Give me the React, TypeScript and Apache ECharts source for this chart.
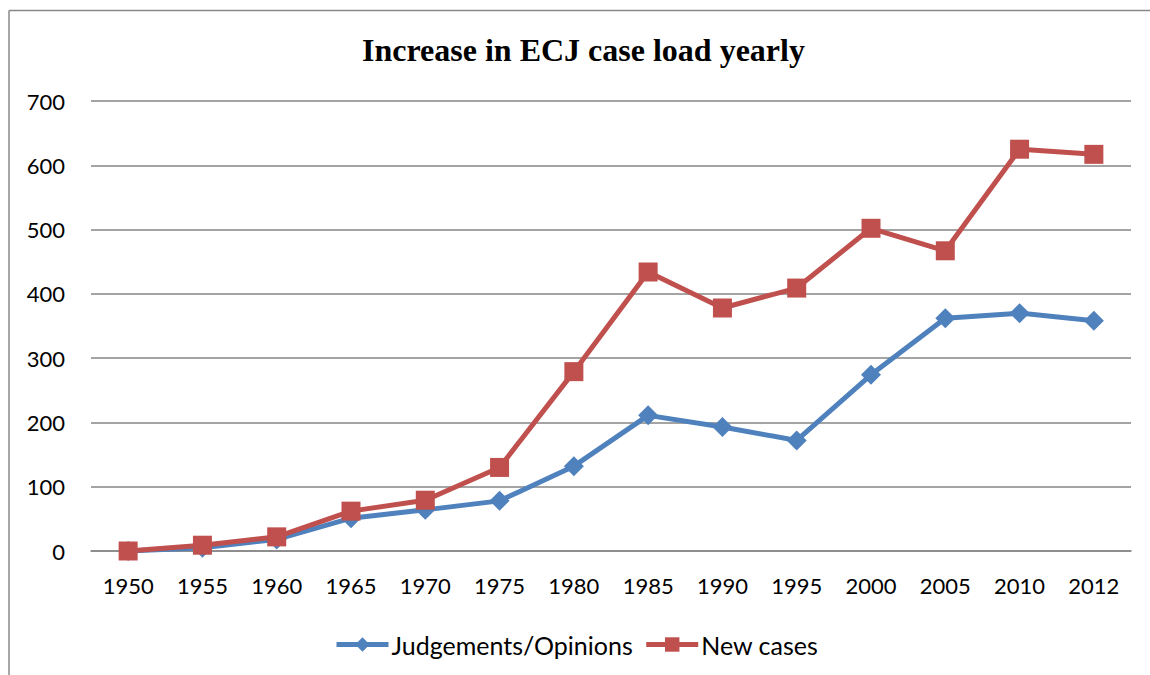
import React, { useEffect, useRef } from "react";
import * as echarts from "echarts";

const years = ["1950", "1955", "1960", "1965", "1970", "1975", "1980", "1985", "1990", "1995", "2000", "2005", "2010", "2012"];
const judgements = [0, 5, 18, 51, 64, 78, 132, 211, 193, 172, 274, 362, 370, 358];
const newCases = [0, 9, 22, 62, 79, 130, 279, 434, 378, 409, 502, 467, 625, 617];

export default function App() {
  const ref = useRef<HTMLDivElement>(null);
  useEffect(() => {
    const chart = echarts.init(ref.current!, null, { renderer: "svg" });
    const labelFont = { fontFamily: "Lato", fontSize: 22, color: "#000" };
    chart.setOption({
      animation: false,
      backgroundColor: "#fff",
      title: {
        text: "Increase in ECJ case load yearly",
        left: 349,
        top: 21,
        textStyle: { fontFamily: "Liberation Serif", fontWeight: "bold", fontSize: 32, color: "#000" },
      },
      graphic: [
        { type: "line", shape: { x1: 1, y1: 2.5, x2: 1, y2: 680 }, style: { stroke: "#888", lineWidth: 1.5 } },
        { type: "line", shape: { x1: 1, y1: 2.5, x2: 1200, y2: 2.5 }, style: { stroke: "#888", lineWidth: 1.5 } },
      ],
      grid: { left: 83, right: 77, top: 93, bottom: 137 },
      legend: {
        left: 321,
        top: 619,
        itemWidth: 52,
        itemHeight: 18,
        itemGap: 11,
        lineStyle: { width: 5 },
        textStyle: { fontFamily: "Lato", fontSize: 25, color: "#000", padding: [0, 0, 0, -2] },
        data: ["Judgements/Opinions", "New cases"],
      },
      xAxis: {
        type: "category",
        data: years,
        boundaryGap: true,
        axisLine: { lineStyle: { color: "#868686", width: 1.5 } },
        axisTick: { show: false },
        axisLabel: { ...labelFont, margin: 23, interval: 0 },
      },
      yAxis: {
        type: "value",
        min: 0,
        max: 700,
        interval: 100,
        axisLine: { show: false },
        axisTick: { show: false },
        axisLabel: { ...labelFont, margin: 26 },
        splitLine: { lineStyle: { color: "#868686", width: 1.5 } },
      },
      series: [
        {
          name: "Judgements/Opinions",
          type: "line",
          data: judgements,
          symbol: "diamond",
          symbolSize: 20,
          lineStyle: { color: "#4F81BD", width: 5 },
          itemStyle: { color: "#4F81BD" },
        },
        {
          name: "New cases",
          type: "line",
          data: newCases,
          symbol: "rect",
          symbolSize: 19,
          lineStyle: { color: "#C0504D", width: 5 },
          itemStyle: { color: "#C0504D" },
        },
      ],
    });
    return () => chart.dispose();
  }, []);
  return <div ref={ref} style={{ position: "fixed", left: 8, top: 8, width: 1200, height: 680 }} />;
}
